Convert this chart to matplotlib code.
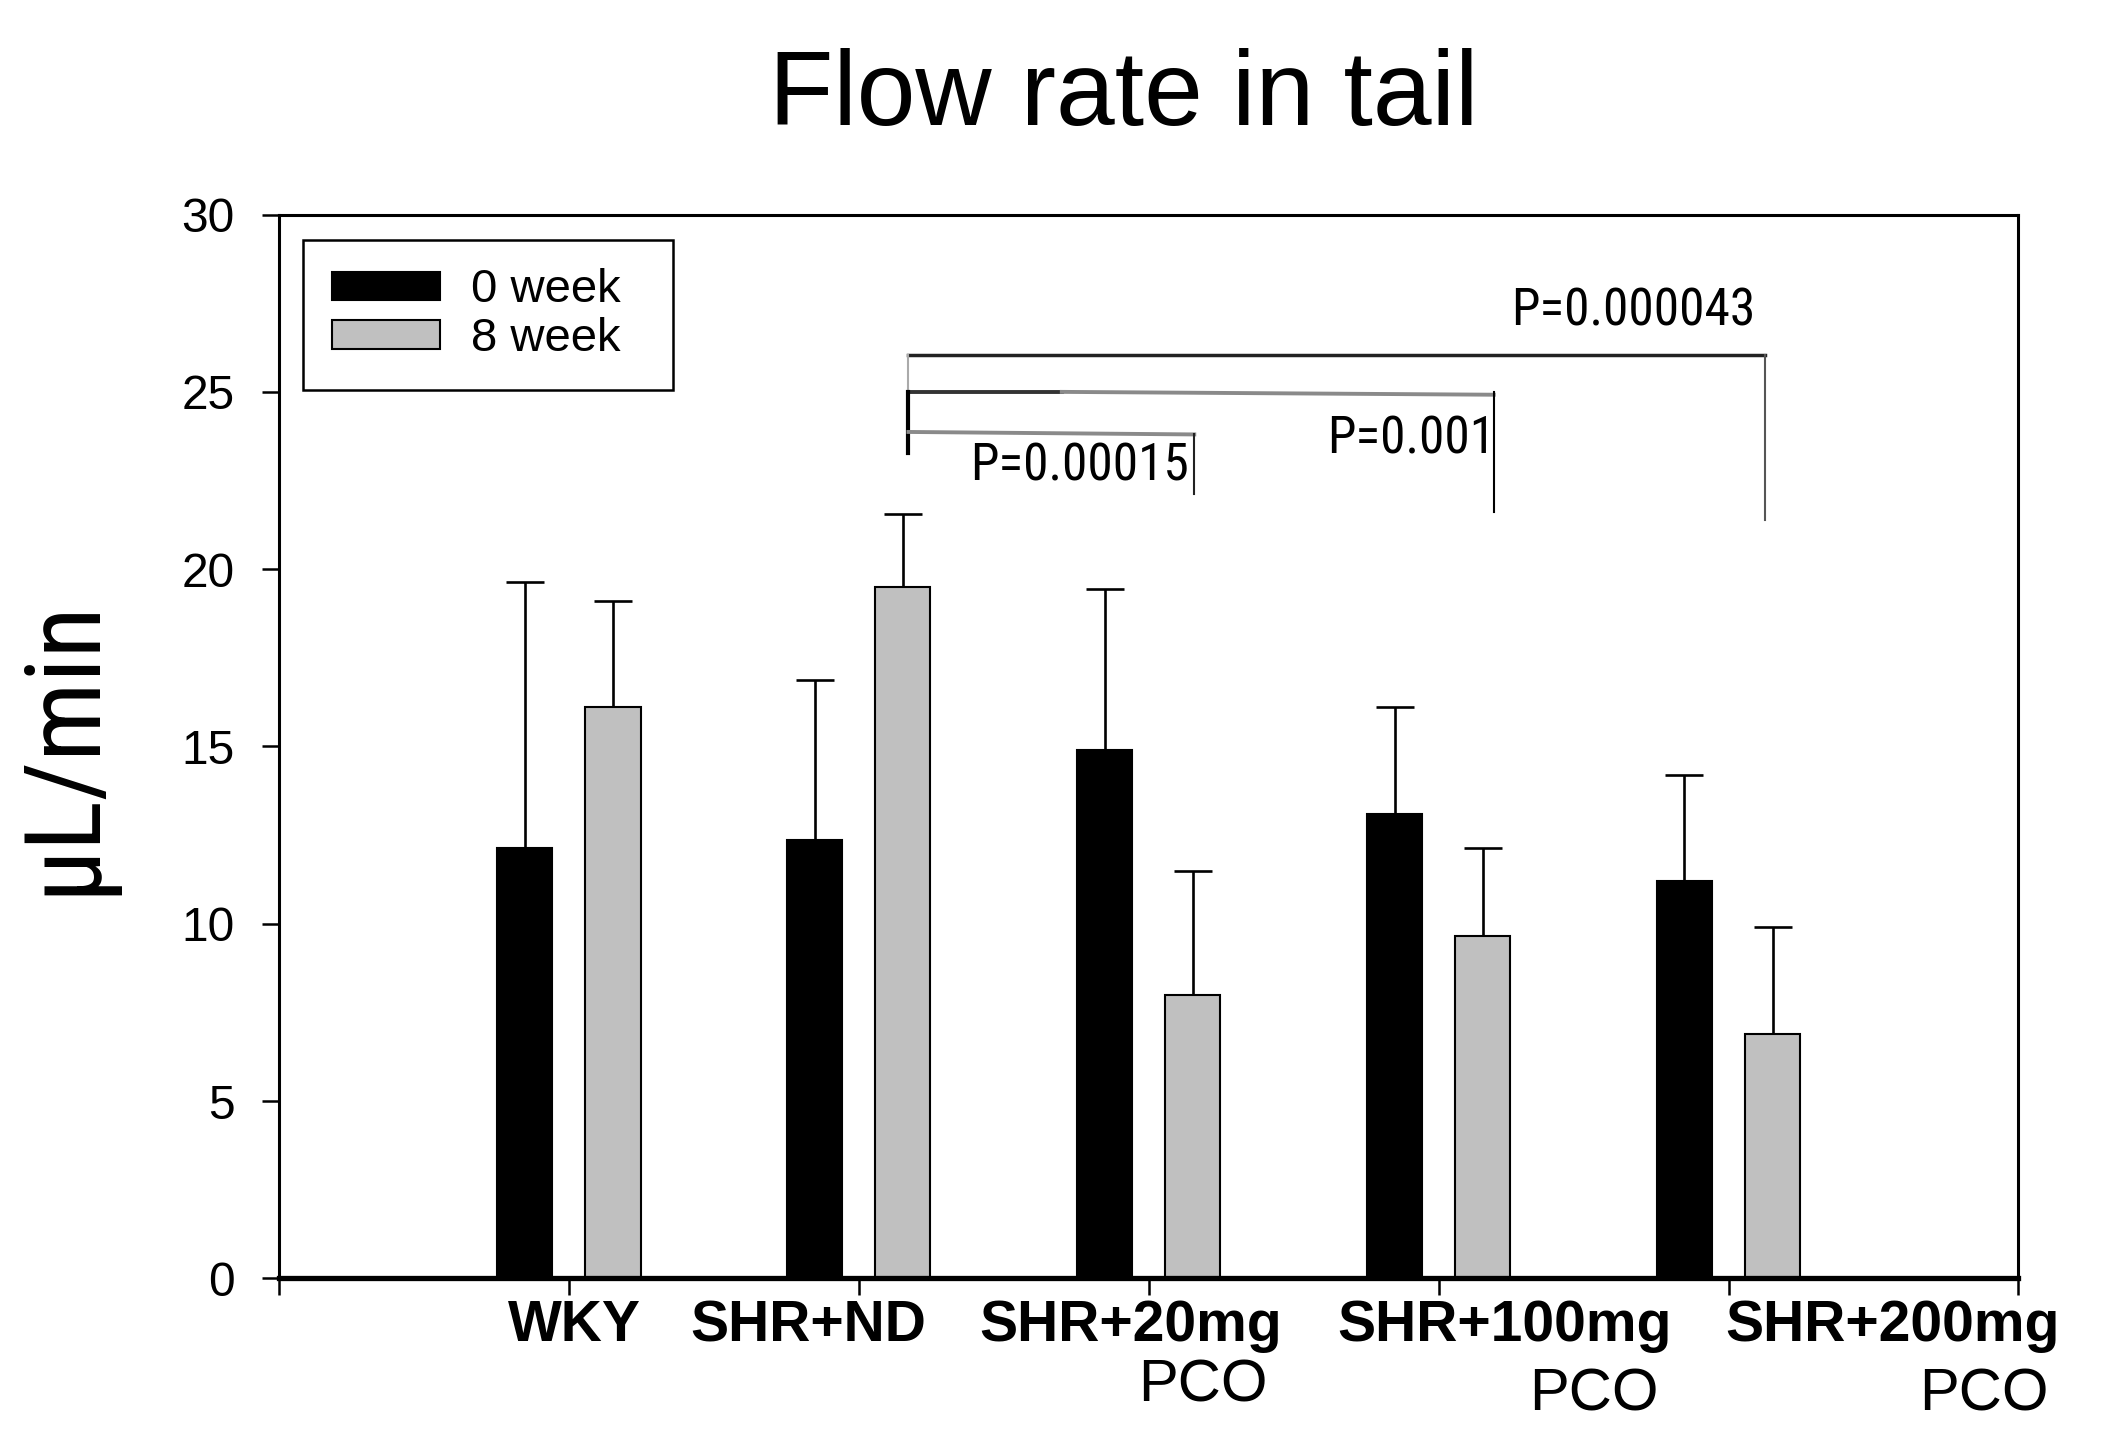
import matplotlib
matplotlib.use("Agg")
import matplotlib.pyplot as plt
import matplotlib.transforms as mtransforms
from matplotlib import font_manager as fm
from matplotlib.patches import Patch
import numpy as np

plt.rcParams['font.family'] = ['Liberation Sans', 'DejaVu Sans']


def pick_font(cands):
    for c in cands:
        try:
            fm.findfont(fm.FontProperties(family=c), fallback_to_default=False)
            return c
        except Exception:
            pass
    return None


narrow_font = pick_font(['Liberation Sans Narrow', 'Arial Narrow', 'DejaVu Sans Condensed',
                         'Roboto Condensed', 'Open Sans Condensed'])

# ---- data ----
groups = ["WKY", "SHR+ND", "SHR+20mg", "SHR+100mg", "SHR+200mg"]
pco_suffix = ["", "", "PCO", "PCO", "PCO"]
week0_mean = [12.15, 12.37, 14.9, 13.1, 11.2]
week0_err = [7.5, 4.5, 4.55, 3.0, 3.0]
week8_mean = [16.1, 19.5, 8.0, 9.65, 6.9]
week8_err = [3.0, 2.05, 3.5, 2.5, 3.0]
series_labels = ["0 week", "8 week"]
p_labels = ["P=0.00015", "P=0.001", "P=0.000043"]

# ---- layout ----
fig = plt.figure(figsize=(21.03, 14.5), dpi=100)
ax = fig.add_axes([0.1327, 0.1184, 0.8271, 0.7336])

x = np.arange(1, len(groups) + 1)
w = 0.19
off = 0.152
ax.bar(x - off, week0_mean, w, color='black', edgecolor='black', linewidth=1.5,
       label=series_labels[0], zorder=2)
ax.bar(x + off, week8_mean, w, color='#c0c0c0', edgecolor='black', linewidth=1.5,
       label=series_labels[1], zorder=2)
ax.errorbar(x - off, week0_mean, yerr=[np.zeros(len(x)), week0_err], fmt='none',
            ecolor='black', elinewidth=1.9, capsize=14, capthick=1.9, zorder=1)
ax.errorbar(x + off, week8_mean, yerr=[np.zeros(len(x)), week8_err], fmt='none',
            ecolor='black', elinewidth=1.9, capsize=14, capthick=1.9, zorder=1)

ax.set_xlim(0, 6)
ax.set_ylim(0, 30)
ax.set_yticks([0, 5, 10, 15, 20, 25, 30])
ax.set_xticks(np.arange(0, 7))
ax.set_xticklabels([])
ax.tick_params(axis='y', direction='out', length=12, width=1.8, labelsize=34.5, pad=20,
               colors='black')
ax.tick_params(axis='x', direction='out', length=12, width=1.8)
for side in ['top', 'right', 'left']:
    ax.spines[side].set_linewidth(2.2)
ax.spines['bottom'].set_linewidth(3.8)

if narrow_font:
    ax.set_ylabel("\u00b5L/min", fontsize=76, family=[narrow_font, 'DejaVu Sans'])
else:
    ax.set_ylabel("\u00b5L/min", fontsize=68)
ax.yaxis.set_label_coords(-0.094, 0.5)

# group labels
trans = mtransforms.blended_transform_factory(ax.transData, ax.transAxes)
label_x = [1.018, 1.827, 2.937, 4.228, 5.565]
pco_x = [None, None, 3.187, 4.537, 5.879]
pco_y = [None, None, -0.116, -0.124, -0.124]
for i, g in enumerate(groups):
    ax.text(label_x[i], -0.059, g, transform=trans, ha='center', va='baseline',
            fontsize=41, fontweight='bold', clip_on=False)
    if pco_suffix[i]:
        ax.text(pco_x[i], pco_y[i], pco_suffix[i], transform=trans, ha='center',
                va='baseline', fontsize=43, clip_on=False)

# significance brackets
xl = 2.171
# top bracket
ax.plot([xl, 5.125], [26.03, 26.03], color='#222222', lw=2.5, zorder=3)
ax.plot([xl, xl], [26.03, 25.0], color='#aaaaaa', lw=1.5, zorder=3)
ax.plot([5.125, 5.125], [26.03, 21.4], color='#555555', lw=1.5, zorder=3)
# middle bracket
ax.plot([xl, 2.7], [25.0, 25.0], color='#333333', lw=2.8, zorder=3)
ax.plot([2.7, 4.19], [25.0, 24.92], color='#8a8a8a', lw=2.8, zorder=3)
ax.plot([xl, xl], [25.0, 23.27], color='black', lw=3, zorder=3)
ax.plot([4.19, 4.19], [25.0, 21.6], color='black', lw=1.5, zorder=3)
# lower bracket
ax.plot([xl, 3.157], [23.87, 23.8], color='#8a8a8a', lw=2.8, zorder=3)
ax.plot([3.157, 3.157], [23.8, 22.13], color='#222222', lw=1.5, zorder=3)

if narrow_font:
    pfam, psize = [narrow_font, 'DejaVu Sans'], 37
else:
    pfam, psize = ['Liberation Sans', 'DejaVu Sans'], 31
ax.text(2.761, 22.51, p_labels[0], ha='center', va='baseline', fontsize=psize, family=pfam)
ax.text(3.904, 23.27, p_labels[1], ha='center', va='baseline', fontsize=psize, family=pfam)
ax.text(4.671, 26.86, p_labels[2], ha='center', va='baseline', fontsize=psize, family=pfam)

# legend
handles = [Patch(facecolor='black', edgecolor='black', linewidth=1.5),
           Patch(facecolor='#c0c0c0', edgecolor='black', linewidth=1.5)]
leg = ax.legend(handles, series_labels, loc='upper left',
                bbox_to_anchor=(0.0139, 0.0, 0.2128, 0.976), mode='expand',
                borderaxespad=0, fontsize=34,
                frameon=True, fancybox=False, handlelength=2.3, handleheight=0.55,
                handletextpad=0.66, labelspacing=0.1, borderpad=0.6)
leg.get_frame().set_edgecolor('black')
leg.get_frame().set_linewidth(1.8)
leg.get_frame().set_alpha(1)

fig.text(0.5344, 0.914, "Flow rate in tail", ha='center', va='baseline', fontsize=76)

fig.savefig("out.png", dpi=100, facecolor='white')
